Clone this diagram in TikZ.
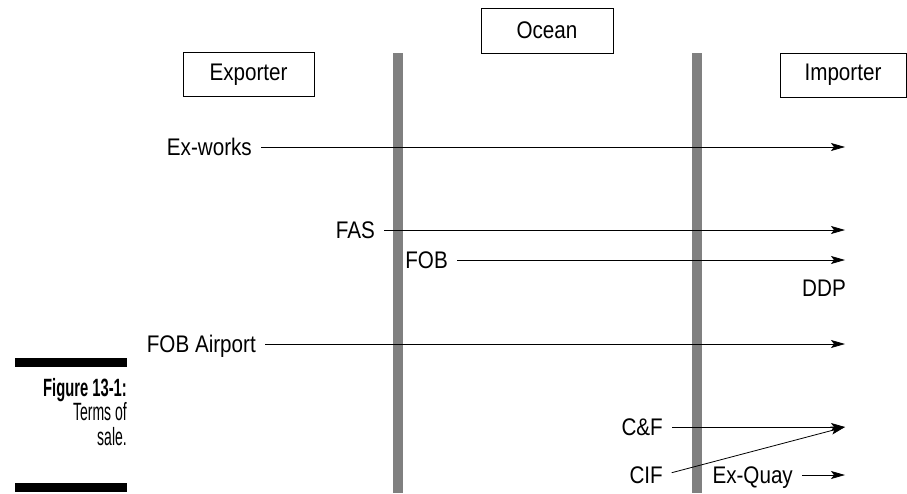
\documentclass[tikz,border=0pt]{standalone}
\usepackage{graphicx}
\usepackage{fontspec}
\setmainfont{Liberation Sans}
\newfontfamily\labelfont[FakeStretch=0.86]{Liberation Sans}
\newcommand\narrowtext[2]{\scalebox{#1}[1]{#2}}
\usetikzlibrary{arrows.meta}
\tikzset{
  party/.style={draw, line width=0.8pt, font={\labelfont\fontsize{24}{27}\selectfont}, minimum height=44pt, inner sep=0pt},
  term/.style={font={\labelfont\fontsize{24}{27}\selectfont}, inner sep=0pt, text height=17pt, text depth=0pt},
  capline/.style={font={\fontsize{25}{27}\selectfont}, inner sep=0pt, anchor=base east},
  arr/.style={line width=0.8pt, -{Stealth[length=14pt,width=8pt,inset=3pt]}, shorten <=9pt}
}
\begin{document}
\begin{tikzpicture}[x=1pt,y=-1pt]
        \useasboundingbox (0,0) rectangle (907,493);
        %% Ocean borders
        \foreach \x in {398,697}
            \fill[gray] (\x-5,53) rectangle (\x+5,493);
        %% Parties
        \node[party, minimum width=131pt] (exporter) at (248.5,74.5) {Exporter};
        \node[party, minimum width=132pt, minimum height=45pt] (ocean) at (547,30.5) {Ocean};
        \node[party, minimum width=126pt] (importer) at (843,75) {Importer};
        %% Terms of sale
        \node[term, anchor=east] (exworks) at (252,147) {Ex-works};
        \node[term, anchor=east] (fas) at (375,230) {FAS};
        \node[term, anchor=east] (fob) at (448,260) {FOB};
        \node[term] (ddp) at (824,288) {DDP};
        \node[term, anchor=east] (fobair) at (256,344) {FOB Airport};
        \node[term, anchor=east] (cf) at (663,427) {C\&F};
        \node[term, anchor=east] (cif) at (663,475) {CIF};
        \node[term, anchor=east] (exquay) at (793,475) {Ex-Quay};
        \coordinate (exworksEnd) at (845,147);
        \coordinate (fasEnd) at (845,230);
        \coordinate (fobEnd) at (845,260);
        \coordinate (fobairEnd) at (845,344);
        \coordinate (cfEnd) at (845,427);
        \coordinate (exquayEnd) at (845,475);
        \draw[arr] (exworks) -- (exworksEnd);
        \draw[arr] (fas) -- (fasEnd);
        \draw[arr] (fob) -- (fobEnd);
        \draw[arr] (fobair) -- (fobairEnd);
        \draw[arr] (cf) -- (cfEnd);
        \draw[arr] (cif.east) -- (cfEnd);
        \draw[arr] (exquay) -- (exquayEnd);
        %% Caption
        \foreach \y in {358,483}
            \fill (15,\y) rectangle (127,\y+9);
        \node[capline] (capfig) at (127,396) {\narrowtext{0.59}{\bfseries Figure 13-1:}};
        \node[capline] (capterms) at (127,420.5) {\narrowtext{0.56}{Terms of}};
        \node[capline] (capsale) at (127,445) {\narrowtext{0.56}{sale.}};
\end{tikzpicture}
\end{document}
